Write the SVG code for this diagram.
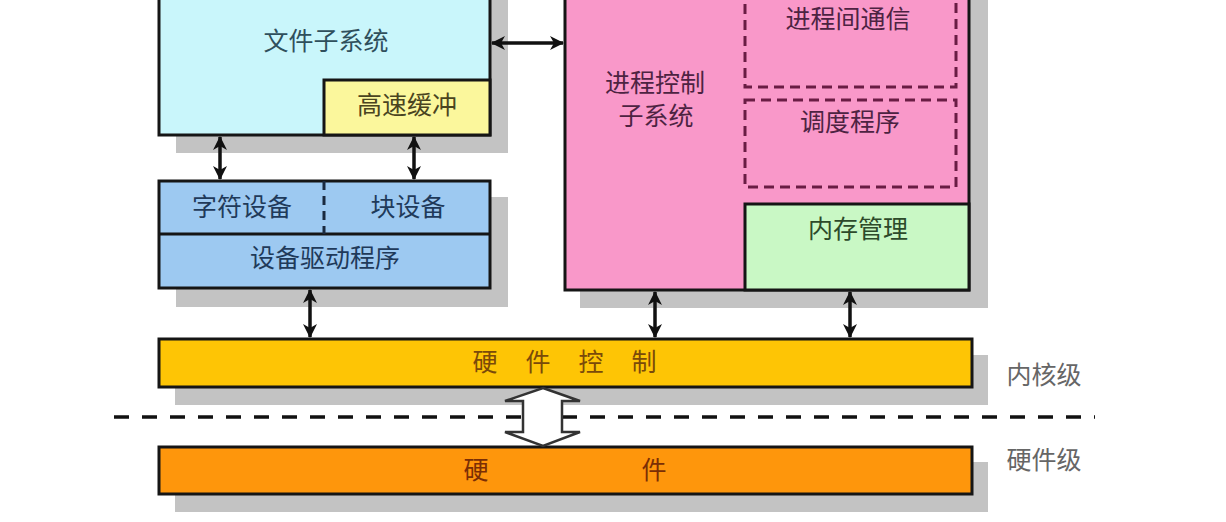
<svg xmlns="http://www.w3.org/2000/svg" width="1226" height="522" viewBox="0 0 1226 522">
<defs>
<marker id="ah" viewBox="0 0 14 14" refX="13" refY="7" markerWidth="4" markerHeight="4" orient="auto-start-reverse" markerUnits="strokeWidth">
<path d="M0,0 L14,7 L0,14 L4,7 Z" fill="#111"/>
</marker>
<style>
text{font-family:"Noto Sans CJK SC","Noto Sans",sans-serif;font-size:25px;text-anchor:middle;dominant-baseline:central}
.box{stroke:#151515;stroke-width:3}
.sh{fill:#c3c3c3}
.dash{fill:none;stroke:#6a1c44;stroke-width:3;stroke-dasharray:10 6}
.conn{stroke:#111;stroke-width:3.5;fill:none;marker-start:url(#ah);marker-end:url(#ah)}
</style>
</defs>
<rect width="1226" height="522" fill="#ffffff"/>

<g id="shadows">
<rect class="sh" x="176" y="0" width="332" height="153"/>
<rect class="sh" x="176" y="197" width="332" height="110"/>
<rect class="sh" x="580" y="0" width="408" height="308"/>
<rect class="sh" x="175" y="355" width="813" height="50"/>
<rect class="sh" x="175" y="462" width="813" height="50"/>
</g>

<g id="file-subsystem">
<rect class="box" x="159" y="-5" width="331" height="140" fill="#c9f6fb"/>
<text x="326" y="39" fill="#2f4f5c">文件子系统</text>
</g>
<g id="cache">
<rect class="box" x="324" y="80" width="166" height="55" fill="#fbf79c"/>
<text x="407" y="103" fill="#4a4420">高速缓冲</text>
</g>

<g id="device">
<rect class="box" x="159" y="181" width="331" height="107" fill="#9dc9f1"/>
<line x1="159" y1="234" x2="490" y2="234" stroke="#151515" stroke-width="3"/>
<line x1="324" y1="181" x2="324" y2="234" stroke="#1a2a40" stroke-width="3" stroke-dasharray="9 6"/>
<text x="242" y="205" fill="#1f3a5a">字符设备</text>
<text x="408" y="205" fill="#1f3a5a">块设备</text>
<text x="325" y="256" fill="#1f3a5a">设备驱动程序</text>
</g>

<g id="process">
<rect class="box" x="565" y="-5" width="404" height="295" fill="#f998c9"/>
<text x="655" y="81" fill="#4d2342">进程控制</text>
<text x="656" y="114" fill="#4d2342">子系统</text>
</g>
<g id="ipc">
<rect class="dash" x="745" y="-10" width="211" height="97"/>
<text x="848" y="17" fill="#4d2342">进程间通信</text>
</g>
<g id="scheduler">
<rect class="dash" x="745" y="100" width="211" height="87"/>
<text x="850" y="120" fill="#4d2342">调度程序</text>
</g>
<g id="memory">
<rect class="box" x="745" y="204" width="224" height="86" fill="#c9f8c5"/>
<text x="858" y="227" fill="#2d4a2a">内存管理</text>
</g>

<g id="hw-control">
<rect class="box" x="159" y="339" width="813" height="48" fill="#fec505"/>
<text x="485 538 591 644" y="360" fill="#7a4a0a">硬件控制</text>
</g>

<g id="hardware">
<rect class="box" x="159" y="447" width="813" height="47" fill="#fe960c"/>
<text x="476 654" y="468" fill="#7a2e05">硬件</text>
</g>

<g id="levels">
<line x1="114" y1="417" x2="1095" y2="417" stroke="#111" stroke-width="3.5" stroke-dasharray="15 13"/>
<text x="1044" y="373" fill="#666">内核级</text>
<text x="1044" y="458" fill="#666">硬件级</text>
</g>

<g id="connectors">
<line class="conn" x1="492" y1="43" x2="563" y2="43"/>
<line class="conn" x1="220" y1="137" x2="220" y2="179"/>
<line class="conn" x1="414" y1="137" x2="414" y2="179"/>
<line class="conn" x1="310" y1="290" x2="310" y2="337"/>
<line class="conn" x1="655" y1="292" x2="655" y2="337"/>
<line class="conn" x1="850" y1="292" x2="850" y2="337"/>
<path d="M543,388 L580,401 L562,401 L562,432 L580,432 L543,446 L505,432 L523,432 L523,401 L505,401 Z" fill="#ffffff" stroke="#333" stroke-width="2.5"/>
</g>
</svg>
